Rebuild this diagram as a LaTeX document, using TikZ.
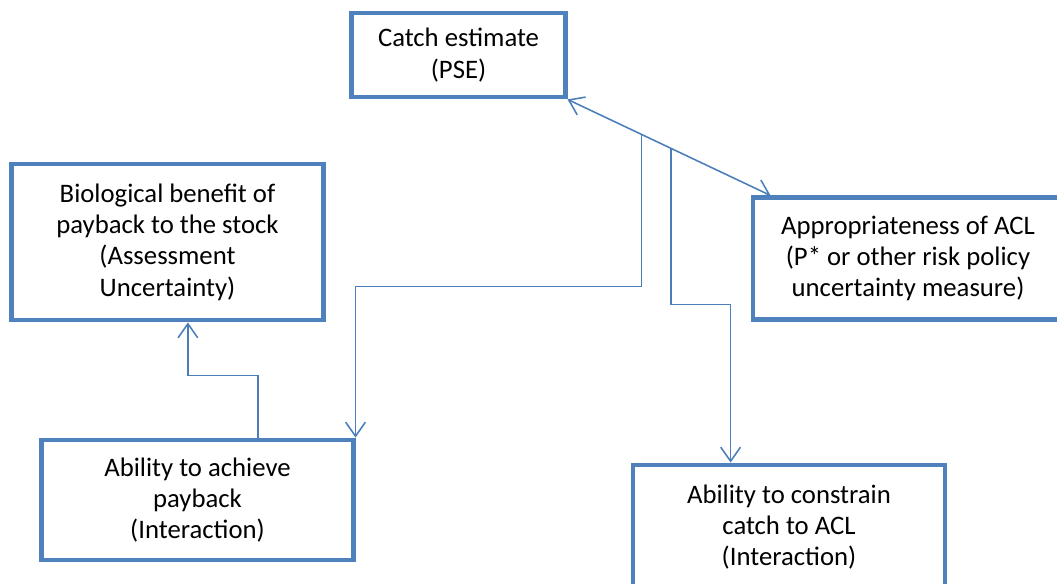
\documentclass[tikz,border=0pt]{standalone}
\usepackage{fontspec}
\setmainfont{Carlito}
\usetikzlibrary{arrows.meta, positioning}
\definecolor{boxblue}{HTML}{4F81BD}
\definecolor{lineblue}{HTML}{4A7EBB}

\begin{document}
\begin{tikzpicture}[x=0.025cm, y=-0.025cm,
	box/.style = {draw=boxblue, line width=3.4pt, align=center, inner sep=0pt,
		font=\fontsize{19}{22.3}\selectfont},
	link/.style = {draw=lineblue, line width=1.1pt,
		>={Straight Barb[length=10pt, width=14pt, line width=1.1pt]}},
]
\useasboundingbox (0,0) rectangle (1057,584);

	\node (catch) [box, minimum width=5.33cm, minimum height=2.1cm] at (458.5,55) {Catch estimate\\(PSE)};
	\node (bio) [box, minimum width=7.78cm, minimum height=3.9cm] at (167.5,242) {Biological benefit of\\payback to the stock\\(Assessment\\Uncertainty)};
	\node (approp) [box, minimum width=7.75cm, minimum height=3.03cm] at (908,258.5) {Appropriateness of ACL\\(P* or other risk policy\\uncertainty measure)};
	\node (achieve) [box, minimum width=7.78cm, minimum height=3cm] at (197.5,500) {Ability to achieve\\payback\\(Interaction)};
	\node (constrain) [box, minimum width=7.8cm, minimum height=3.1cm] at (789,527) {Ability to constrain\\catch to ACL\\(Interaction)};

\draw [link, <->] (catch.south east) -- coordinate[pos=0.365] (j1) coordinate[pos=0.51] (j2) ([xshift=0.5cm]approp.north west);
\draw [link, ->] (j1) -- ++(0,152) -| (achieve.north east);
\draw [link, ->] (j2) -- ++(0,156) -| ([xshift=2.5cm]constrain.north west);
\draw [link, ->] ([xshift=1.51cm]achieve.north) -- ++(0,-62) -| ([xshift=0.51cm]bio.south);
\end{tikzpicture}
\end{document}
